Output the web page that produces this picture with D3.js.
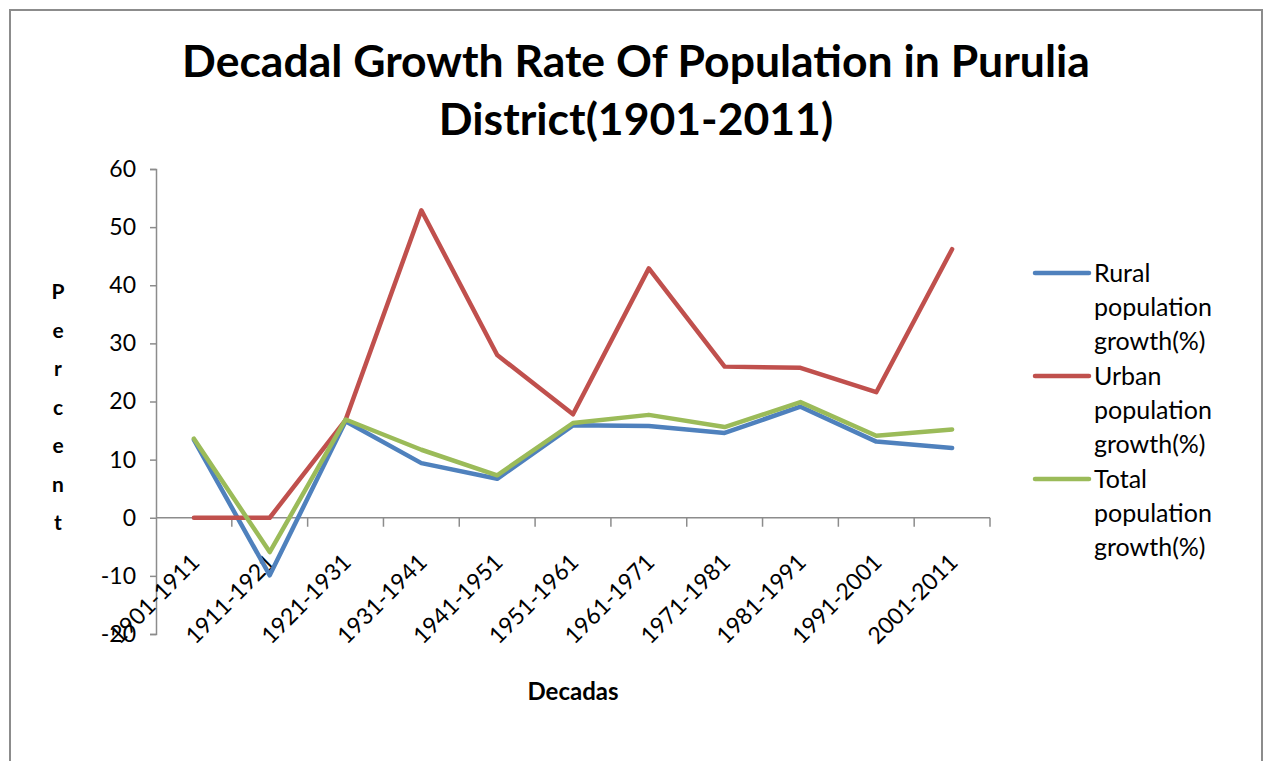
<!DOCTYPE html>
<html>
<head>
<meta charset="utf-8">
<script src="https://cdn.jsdelivr.net/npm/d3@7"></script>
<style>
  body { margin: 0; background: #fff; }
  text { font-family: Lato, "Open Sans", sans-serif; fill: #000; }
</style>
</head>
<body>
<script>
"use strict";

(function() {

// data
let decades = ['1901-1911', '1911-1921', '1921-1931', '1931-1941', '1941-1951', '1951-1961',
               '1961-1971', '1971-1981', '1981-1991', '1991-2001', '2001-2011'];
let rural = [13.4, -9.9, 16.6, 9.4, 6.7, 15.9, 15.8, 14.6, 19.1, 13.1, 12.0];
let urban = [0, 0, 16.8, 52.9, 28.0, 17.8, 42.9, 26.0, 25.8, 21.6, 46.2];
let total = [13.6, -5.9, 16.9, 11.7, 7.3, 16.3, 17.7, 15.6, 19.9, 14.1, 15.2];
let seriesNames = ['Rural population growth(%)', 'Urban population growth(%)', 'Total population growth(%)'];
let colors = ['#4f81bd', '#c0504d', '#9bbb59'];
let yTicks = [-20, -10, 0, 10, 20, 30, 40, 50, 60];

let W = 1264, H = 761;
let margins = {top: 169, right: 274, bottom: 127, left: 156};
let width = W - margins.left - margins.right;
let height = H - margins.top - margins.bottom;

let svg = d3.select('body')
    .append('svg')
    .attr('width', W)
    .attr('height', H);

// outer frame of the chart area
svg.append('rect')
    .attr('x', 10).attr('y', 10)
    .attr('width', 1252).attr('height', 780)
    .attr('fill', 'none')
    .attr('stroke', '#8c8c8c')
    .attr('stroke-width', 2);

// title
let title = svg.append('text')
    .attr('text-anchor', 'middle')
    .attr('font-size', 44.5)
    .attr('font-weight', 'bold');
title.append('tspan').attr('x', 636).attr('y', 77).text('Decadal Growth Rate Of Population in Purulia');
title.append('tspan').attr('x', 636).attr('y', 135).text('District(1901-2011)');

let g = svg.append('g')
    .attr('transform', 'translate(' + margins.left + ',' + margins.top + ')');

let x = d3.scaleBand().domain(decades).range([0, width]);
let y = d3.scaleLinear().domain([-20, 60]).range([height, 0]);

// y axis
let yAxis = g.append('g')
    .call(d3.axisLeft(y).tickValues(yTicks).tickFormat(d => String(d)).tickSize(6).tickPadding(14));
yAxis.select('.domain').attr('stroke', '#8c8c8c').attr('stroke-width', 1.5);
yAxis.selectAll('.tick line').attr('stroke', '#8c8c8c').attr('stroke-width', 1.5);
yAxis.selectAll('.tick text')
    .attr('font-size', 23)
    .attr('font-family', 'Lato, sans-serif')
    .attr('fill', '#222');

// x axis sits on zero, ticks at band boundaries
let xAxis = g.append('g')
    .attr('transform', 'translate(0,' + y(0) + ')');
xAxis.append('line')
    .attr('x1', 0).attr('x2', width)
    .attr('stroke', '#8c8c8c').attr('stroke-width', 1.5);
xAxis.selectAll('.xtick')
    .data(decades)
    .enter()
    .append('line')
    .attr('class', 'xtick')
    .attr('x1', d => x(d) + x.bandwidth())
    .attr('x2', d => x(d) + x.bandwidth())
    .attr('y1', 0).attr('y2', 9)
    .attr('stroke', '#8c8c8c').attr('stroke-width', 1.5);
xAxis.selectAll('.xlabel')
    .data(decades)
    .enter()
    .append('text')
    .attr('class', 'xlabel')
    .attr('text-anchor', 'end')
    .attr('font-size', 23)
    .attr('fill', '#222')
    .attr('transform', d => 'translate(' + (x(d) + x.bandwidth() / 2 + 7) + ',46) rotate(-45)')
    .text(d => d);

// axis titles
let letters = 'Percent'.split('');
svg.selectAll('.ylet')
    .data(letters)
    .enter()
    .append('text')
    .attr('class', 'ylet')
    .attr('x', 58)
    .attr('y', (d, i) => 299 + i * 38.5)
    .attr('text-anchor', 'middle')
    .attr('font-size', 21)
    .attr('font-weight', 'bold')
    .text(d => d);

svg.append('text')
    .attr('x', 573).attr('y', 700)
    .attr('text-anchor', 'middle')
    .attr('font-size', 24)
    .attr('font-weight', 'bold')
    .text('Decadas');

// lines
let series = [rural, urban, total];
let line = d3.line()
    .x((d, i) => x(decades[i]) + x.bandwidth() / 2)
    .y(d => y(d));

g.selectAll('.series')
    .data(series)
    .enter()
    .append('path')
    .attr('class', 'series')
    .attr('d', d => line(d))
    .attr('fill', 'none')
    .attr('stroke', (d, i) => colors[i])
    .attr('stroke-width', 4.5)
    .attr('stroke-linejoin', 'round')
    .attr('stroke-linecap', 'round');

// legend
let legend = svg.selectAll('.legend')
    .data(seriesNames)
    .enter()
    .append('g')
    .attr('class', 'legend')
    .attr('transform', (d, i) => 'translate(1035,' + (273 + i * 103) + ')');

legend.append('line')
    .attr('x1', 0).attr('x2', 54)
    .attr('stroke', (d, i) => colors[i])
    .attr('stroke-width', 4.5)
    .attr('stroke-linecap', 'round');

legend.each(function(d) {
    let parts = [d.split(' ')[0], 'population', 'growth(%)'];
    let t = d3.select(this).append('text')
        .attr('font-size', 25)
        .attr('fill', '#222');
    parts.forEach((p, j) => {
        t.append('tspan').attr('x', 59).attr('y', 9 + j * 34).text(p);
    });
});

})();
</script>
</body>
</html>
